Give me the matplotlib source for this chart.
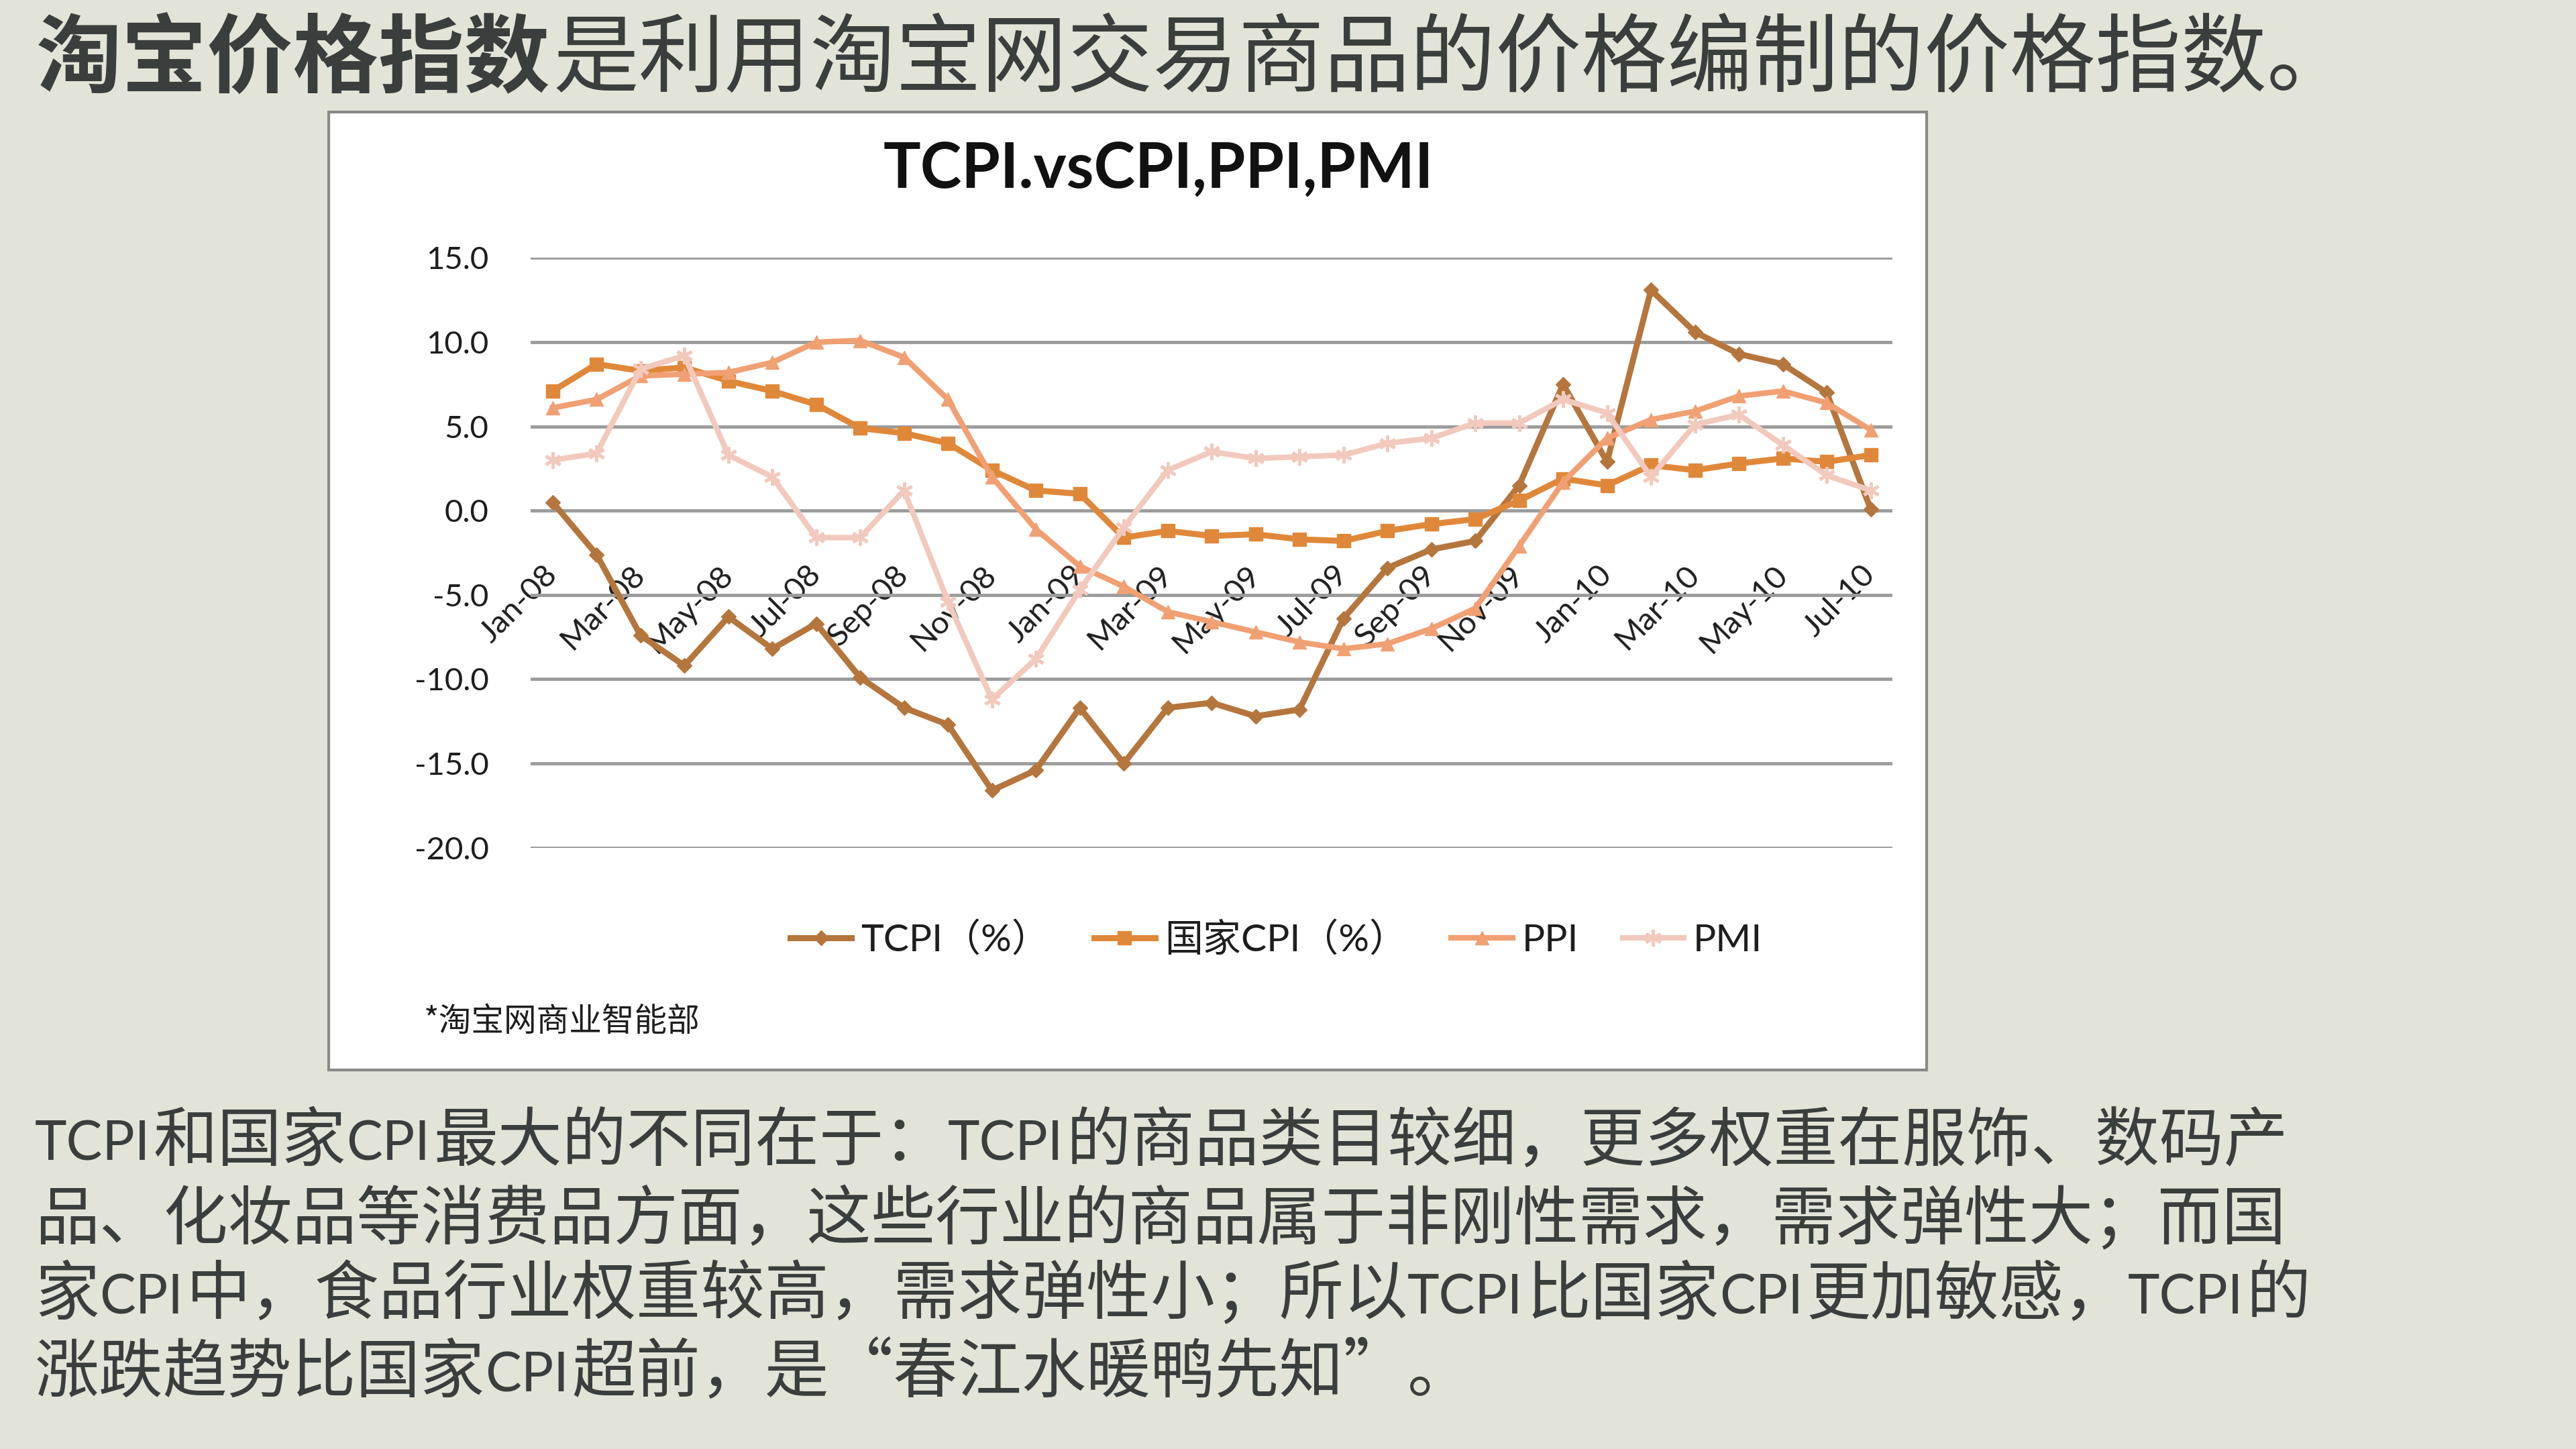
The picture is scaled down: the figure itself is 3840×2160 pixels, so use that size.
import re
import numpy as np
import matplotlib
matplotlib.use("Agg")
import matplotlib.pyplot as plt
from matplotlib.patches import Rectangle
from matplotlib.lines import Line2D

# ---------------- data ----------------
months = ["Jan-08", "Feb-08", "Mar-08", "Apr-08", "May-08", "Jun-08", "Jul-08", "Aug-08",
          "Sep-08", "Oct-08", "Nov-08", "Dec-08", "Jan-09", "Feb-09", "Mar-09", "Apr-09",
          "May-09", "Jun-09", "Jul-09", "Aug-09", "Sep-09", "Oct-09", "Nov-09", "Dec-09",
          "Jan-10", "Feb-10", "Mar-10", "Apr-10", "May-10", "Jun-10", "Jul-10"]
tcpi = [0.5, -2.6, -7.4, -9.2, -6.3, -8.2, -6.7, -9.9, -11.7, -12.7, -16.6, -15.4,
        -11.7, -15.0, -11.7, -11.4, -12.2, -11.8, -6.4, -3.4, -2.3, -1.8, 1.5, 7.5,
        2.9, 13.1, 10.6, 9.3, 8.7, 7.0, 0.1]
cpi = [7.1, 8.7, 8.3, 8.5, 7.7, 7.1, 6.3, 4.9, 4.6, 4.0, 2.4, 1.2,
       1.0, -1.6, -1.2, -1.5, -1.4, -1.7, -1.8, -1.2, -0.8, -0.5, 0.6, 1.9,
       1.5, 2.7, 2.4, 2.8, 3.1, 2.9, 3.3]
ppi = [6.1, 6.6, 8.0, 8.1, 8.2, 8.8, 10.0, 10.1, 9.1, 6.6, 2.0, -1.1,
       -3.3, -4.5, -6.0, -6.6, -7.2, -7.8, -8.2, -7.9, -7.0, -5.8, -2.1, 1.7,
       4.3, 5.4, 5.9, 6.8, 7.1, 6.4, 4.8]
pmi = [3.0, 3.4, 8.4, 9.2, 3.3, 2.0, -1.6, -1.6, 1.2, -5.4, -11.2, -8.8,
       -4.7, -1.0, 2.4, 3.5, 3.1, 3.2, 3.3, 4.0, 4.3, 5.2, 5.2, 6.6,
       5.8, 2.0, 5.1, 5.7, 3.9, 2.1, 1.2]
series_names = ["TCPI（%）", "国家CPI（%）", "PPI", "PMI"]
y_ticks = [-20, -15, -10, -5, 0, 5, 10, 15]

chart_title = "TCPI.vsCPI,PPI,PMI"
header_bold = "淘宝价格指数"
header_rest = "是利用淘宝网交易商品的价格编制的价格指数。"
source_note = "*淘宝网商业智能部"
body_lines = [
    "TCPI和国家CPI最大的不同在于：TCPI的商品类目较细，更多权重在服饰、数码产",
    "品、化妆品等消费品方面，这些行业的商品属于非刚性需求，需求弹性大；而国",
    "家CPI中，食品行业权重较高，需求弹性小；所以TCPI比国家CPI更加敏感，TCPI的",
    "涨跌趋势比国家CPI超前，是“春江水暖鸭先知”。",
]

# ---------------- style ----------------
CJK = ["Noto Sans CJK SC", "DejaVu Sans"]
CHART_FONT = ["Lato", "Noto Sans CJK SC", "DejaVu Sans"]
LATIN = ["Lato", "DejaVu Sans"]
plt.rcParams["font.family"] = CHART_FONT
BG = "#E3E4D8"
TXT = "#3A3E3C"
W, H = 3840, 2160

fig = plt.figure(figsize=(38.4, 21.6), dpi=100, facecolor=BG)

# chart frame
frame = Rectangle((0.1276, 0.2616), 0.748 - 0.1276, 0.9227 - 0.2616,
                  transform=fig.transFigure, facecolor="white",
                  edgecolor="#8a8a8a", lw=3, zorder=0)
fig.patches.append(frame)

ax = fig.add_axes([0.206, 0.415, 0.7347 - 0.206, 0.822 - 0.415])
ax.set_zorder(5)
ax.set_facecolor("none")
x = np.arange(len(months))

colors = ["#B5763E", "#E0883A", "#F0A073", "#F2C9BD"]
styles = [dict(marker="D", ms=11, lw=6.5),
          dict(marker="s", ms=14, lw=6.5),
          dict(marker="^", ms=14, lw=6),
          dict(marker=(6, 2, 0), ms=18, mew=3.5, lw=6)]
for i, (vals, c, st) in enumerate(zip([tcpi, cpi, ppi, pmi], colors, styles)):
    ax.plot(x, vals, color=c, zorder=3 + i, **st)

ax.set_xlim(-0.5, len(months) - 0.5)
ax.set_ylim(-20, 15)
ax.set_yticks(y_ticks)
ax.set_yticklabels([f"{v:.1f}" for v in y_ticks])
ax.yaxis.grid(True, color="#9c9c9c", lw=3.5)
ax.set_axisbelow(True)
for s in ax.spines.values():
    s.set_visible(False)
ax.spines["bottom"].set_position(("data", 0))

ax.set_xticks(x[::2])
ax.set_xticklabels(months[::2], rotation=45, ha="right", va="center",
                   rotation_mode="anchor")
ax.tick_params(axis="x", length=0, pad=64, labelsize=34, labelcolor="#1e1e1e")
ax.tick_params(axis="y", length=0, pad=45, labelsize=34, labelcolor="#1e1e1e")

# title
fig.text(0.4497, 0.883, chart_title, ha="center", va="center",
         fontsize=67, fontweight="bold", color="#111111", family=CHART_FONT)

# legend
handles = [Line2D([], [], color=c, **st) for c, st in zip(colors, styles)]
fig.legend(handles, series_names, loc="center", bbox_to_anchor=(0.4955, 0.3514),
           ncol=4, frameon=False, prop={"family": CHART_FONT, "size": 41},
           handlelength=1.6, columnspacing=1.15, handletextpad=0.25,
           labelcolor="#1e1e1e")

# source note
fig.text(0.1646, 0.2949, source_note, ha="left", va="center", fontsize=35,
         color="#1e1e1e", family=CJK)

# header
fig.text(0.014, 0.958, header_bold, ha="left", va="center", fontsize=92,
         fontweight="bold", color=TXT, family=CJK)
fig.text(0.2148, 0.958, header_rest, ha="left", va="center", fontsize=92,
         color=TXT, family=CJK)

# body text: Latin runs in a slimmer setting, CJK runs in Noto Sans CJK,
# all on a shared baseline
renderer = fig.canvas.get_renderer()
body_size = 69
latin_size = 58
em_px = body_size * 100 / 72
line_y = [1695, 1813, 1924, 2040]
for yy, line in zip(line_y, body_lines):
    base = 1 - (yy + 0.36 * em_px) / H
    cx = 52.0
    for run in re.findall(r"[A-Za-z]+|[^A-Za-z]+", line):
        if re.match(r"[A-Za-z]", run):
            t = fig.text(cx / W, base, run, ha="left", va="baseline",
                         fontsize=latin_size, color=TXT, family=LATIN)
            bb = t.get_window_extent(renderer)
            cx += bb.width + 0.05 * em_px
        else:
            fig.text(cx / W, base, run, ha="left", va="baseline",
                     fontsize=body_size, color=TXT, family=CJK)
            cx += len(run) * em_px

fig.savefig("out.png", dpi=100, facecolor=BG)
